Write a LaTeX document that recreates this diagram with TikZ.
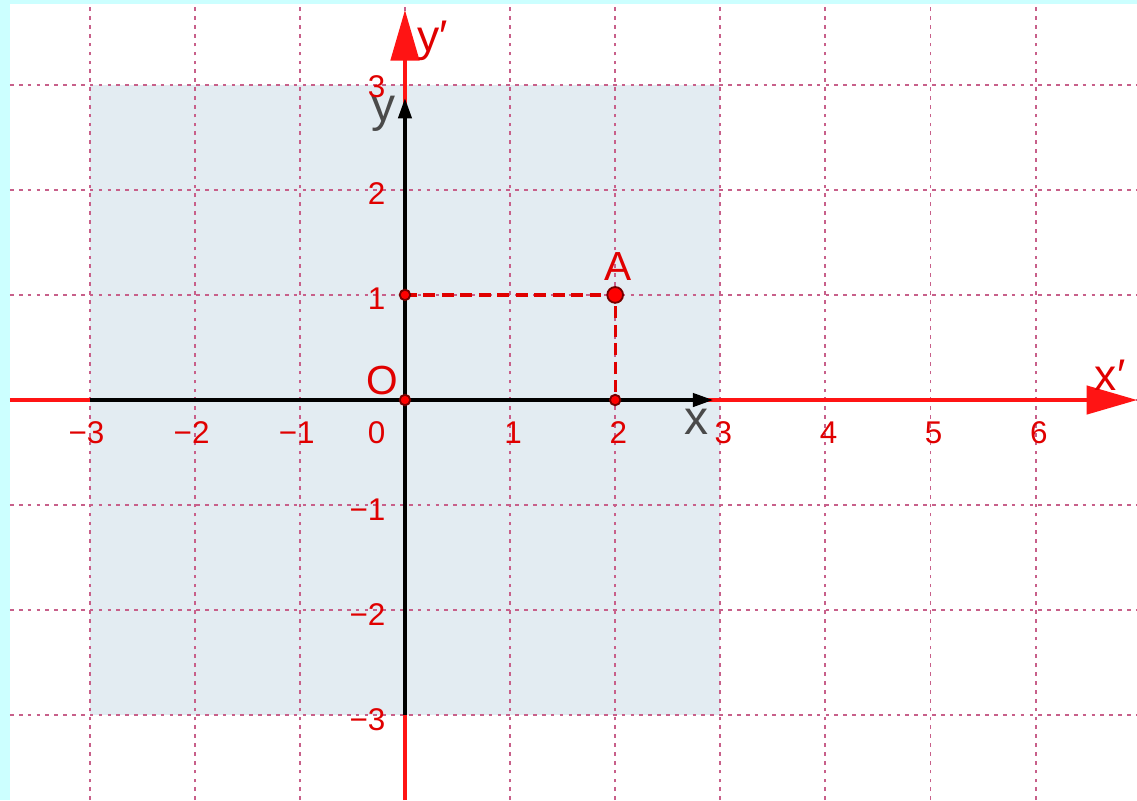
\documentclass[tikz,border=0pt]{standalone}
\usepackage{fontspec}
\setmainfont{Liberation Sans}
\usetikzlibrary{arrows.meta}
\usepackage{xcolor}
\definecolor{bgcyan}{HTML}{CCFFFF}
\definecolor{regionblue}{HTML}{E3ECF2}
\definecolor{gridpink}{HTML}{C8608A}
\definecolor{axisred}{HTML}{FF1414}
\definecolor{labelred}{HTML}{E00000}
\definecolor{labelgray}{HTML}{4A4A4A}

\begin{document}
\begin{tikzpicture}[x=1cm, y=1cm,
  gridline/.style={draw=gridpink,line width=0.5pt,dash pattern=on 1pt off 1.4pt},
  redaxis/.style={draw=axisred,line width=0.9pt,-{Triangle[length=0.48cm,width=0.27cm]}},
  blackaxis/.style={draw=black,line width=1.3pt,-{Triangle[length=0.2cm,width=0.12cm]}},
  helpline/.style={draw=labelred,line width=0.9pt,dash pattern=on 3.2pt off 1.8pt},
  ticklabel/.style={text=labelred,font=\fontsize{8.5}{10}\selectfont,inner sep=0pt},
  ptlabel/.style={text=labelred,font=\fontsize{11}{13}\selectfont,inner sep=0pt},
  axlabel/.style={text=labelgray,font=\fontsize{13}{14}\selectfont,inner sep=0pt},
  redlabel/.style={text=labelred,font=\fontsize{12}{14}\selectfont,inner sep=0pt},
  smalldot/.style={circle,fill=red,draw=black!55!red,line width=0.5pt,inner sep=0pt,minimum size=0.1cm},
  bigdot/.style={smalldot,minimum size=0.15cm}]
\useasboundingbox (-3.853,-3.806) rectangle (6.965,3.806);
\fill[bgcyan] (-3.853,-3.806) rectangle (6.965,3.806);
\fill[white] (-3.758,-3.806) rectangle (6.965,3.768);
\fill[regionblue] (-3,-3) rectangle (3,3);
\draw[gridline] (-3.758,-3.806) grid (6.965,3.768);
\coordinate (xstart) at (-3.758,0);
\coordinate (xend) at (6.965,0);
\coordinate (ystart) at (0,-3.806);
\coordinate (yend) at (0,3.71);
\draw[redaxis] (xstart) -- (xend);
\draw[redaxis] (ystart) -- (yend);
\coordinate (xneg) at (-3,0);
\coordinate (xpos) at (2.94,0);
\coordinate (yneg) at (0,-3);
\coordinate (ypos) at (0,2.88);
\draw[blackaxis] (xneg) -- (xpos);
\draw[blackaxis] (yneg) -- (ypos);
\coordinate (O) at (0,0);
\coordinate (A) at (2,1);
\coordinate (Ay) at (0,1);
\coordinate (Ax) at (2,0);
\draw[helpline] (Ay) -- (A) -- (Ax);
\node[smalldot] (dotO) at (O) {};
\node[smalldot] (dotAy) at (Ay) {};
\node[smalldot] (dotAx) at (Ax) {};
\node[bigdot] (dotA) at (A) {};
\node[ptlabel] (labA) at (2.03,1.27) {A};
\node[ptlabel] (labO) at (-0.22,0.19) {O};
\node[axlabel] (labx) at (2.77,-0.21) {x};
\node[axlabel] (laby) at (-0.2,2.72) {y};
\node[redlabel] (labxp) at (6.71,0.24) {x′};
\node[redlabel] (labyp) at (0.26,3.42) {y′};
\node[ticklabel] (xtm3) at (-3.03,-0.31) {−3};
\node[ticklabel] (xtm2) at (-2.03,-0.31) {−2};
\node[ticklabel] (xtm1) at (-1.03,-0.31) {−1};
\node[ticklabel] (xt0) at (-0.27,-0.31) {0};
\node[ticklabel] (xt1) at (1.03,-0.31) {1};
\node[ticklabel] (xt2) at (2.03,-0.31) {2};
\node[ticklabel] (xt3) at (3.03,-0.31) {3};
\node[ticklabel] (xt4) at (4.03,-0.31) {4};
\node[ticklabel] (xt5) at (5.03,-0.31) {5};
\node[ticklabel] (xt6) at (6.03,-0.31) {6};
\node[ticklabel,anchor=east] (yt3) at (-0.18,2.98) {3};
\node[ticklabel,anchor=east] (yt2) at (-0.18,1.96) {2};
\node[ticklabel,anchor=east] (yt1) at (-0.18,0.96) {1};
\node[ticklabel,anchor=east] (ytm1) at (-0.18,-1.04) {−1};
\node[ticklabel,anchor=east] (ytm2) at (-0.18,-2.04) {−2};
\node[ticklabel,anchor=east] (ytm3) at (-0.18,-3.04) {−3};
\end{tikzpicture}
\end{document}
